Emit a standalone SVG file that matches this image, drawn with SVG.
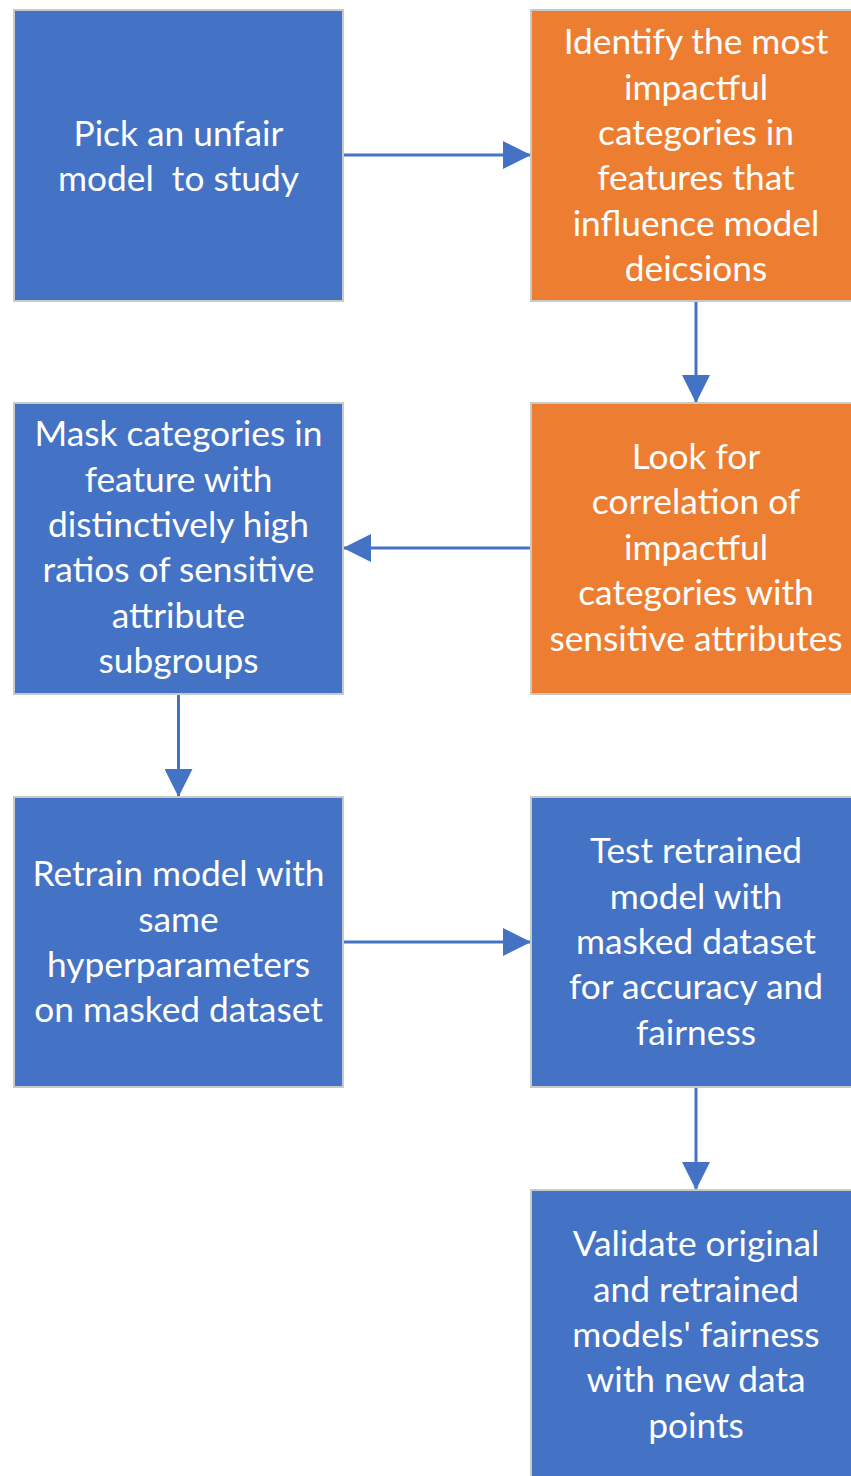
<svg xmlns="http://www.w3.org/2000/svg" width="851" height="1476" viewBox="0 0 851 1476">
<style>
.box{stroke:#c9c9c9;stroke-width:2}
.blue{fill:#4472C4}
.orange{fill:#ED7D31}
.t{fill:#ffffff;font-family:Lato,"Open Sans","Liberation Sans",sans-serif;font-size:35.3px;text-anchor:middle}
.c{stroke:#4472C4;stroke-width:3;fill:none}
</style>
<defs>
<marker id="ah" viewBox="0 0 10 10" refX="10" refY="5" markerUnits="userSpaceOnUse" markerWidth="29" markerHeight="28" orient="auto">
<path d="M0,0 L10,5 L0,10 Z" fill="#4472C4"/>
</marker>
</defs>
<rect width="851" height="1476" fill="#ffffff"/>
<g id="connectors">
<line class="c" x1="343" y1="155" x2="531" y2="155" marker-end="url(#ah)"/>
<line class="c" x1="696" y1="301" x2="696" y2="403" marker-end="url(#ah)"/>
<line class="c" x1="531" y1="548" x2="343" y2="548" marker-end="url(#ah)"/>
<line class="c" x1="178.5" y1="694" x2="178.5" y2="797" marker-end="url(#ah)"/>
<line class="c" x1="343" y1="942" x2="531" y2="942" marker-end="url(#ah)"/>
<line class="c" x1="696" y1="1087" x2="696" y2="1190" marker-end="url(#ah)"/>
</g>
<g id="n1">
<rect class="box blue" x="14" y="10" width="329" height="291"/>
<text class="t" x="178.5" y="146">Pick an unfair</text>
<text class="t" x="178.5" y="191" xml:space="preserve">model  to study</text>
</g>
<g id="n2">
<rect class="box orange" x="531" y="10" width="330" height="291"/>
<text class="t" x="696" y="54">Identify the most</text>
<text class="t" x="696" y="99.5">impactful</text>
<text class="t" x="696" y="145">categories in</text>
<text class="t" x="696" y="190">features that</text>
<text class="t" x="696" y="235.5">influence model</text>
<text class="t" x="696" y="281">deicsions</text>
</g>
<g id="n3">
<rect class="box blue" x="14" y="403" width="329" height="291"/>
<text class="t" x="178.5" y="446">Mask categories in</text>
<text class="t" x="178.5" y="492">feature with</text>
<text class="t" x="178.5" y="537">distinctively high</text>
<text class="t" x="178.5" y="582">ratios of sensitive</text>
<text class="t" x="178.5" y="628">attribute</text>
<text class="t" x="178.5" y="673">subgroups</text>
</g>
<g id="n4">
<rect class="box orange" x="531" y="403" width="330" height="291"/>
<text class="t" x="696" y="469">Look for</text>
<text class="t" x="696" y="514">correlation of</text>
<text class="t" x="696" y="560">impactful</text>
<text class="t" x="696" y="605">categories with</text>
<text class="t" x="696" y="651">sensitive attributes</text>
</g>
<g id="n5">
<rect class="box blue" x="14" y="797" width="329" height="290"/>
<text class="t" x="178.5" y="886">Retrain model with</text>
<text class="t" x="178.5" y="932">same</text>
<text class="t" x="178.5" y="977">hyperparameters</text>
<text class="t" x="178.5" y="1022">on masked dataset</text>
</g>
<g id="n6">
<rect class="box blue" x="531" y="797" width="330" height="290"/>
<text class="t" x="696" y="863">Test retrained</text>
<text class="t" x="696" y="909">model with</text>
<text class="t" x="696" y="954">masked dataset</text>
<text class="t" x="696" y="999">for accuracy and</text>
<text class="t" x="696" y="1045">fairness</text>
</g>
<g id="n7">
<rect class="box blue" x="531" y="1190" width="330" height="296"/>
<text class="t" x="696" y="1256">Validate original</text>
<text class="t" x="696" y="1302">and retrained</text>
<text class="t" x="696" y="1347">models' fairness</text>
<text class="t" x="696" y="1392">with new data</text>
<text class="t" x="696" y="1438">points</text>
</g>
</svg>
